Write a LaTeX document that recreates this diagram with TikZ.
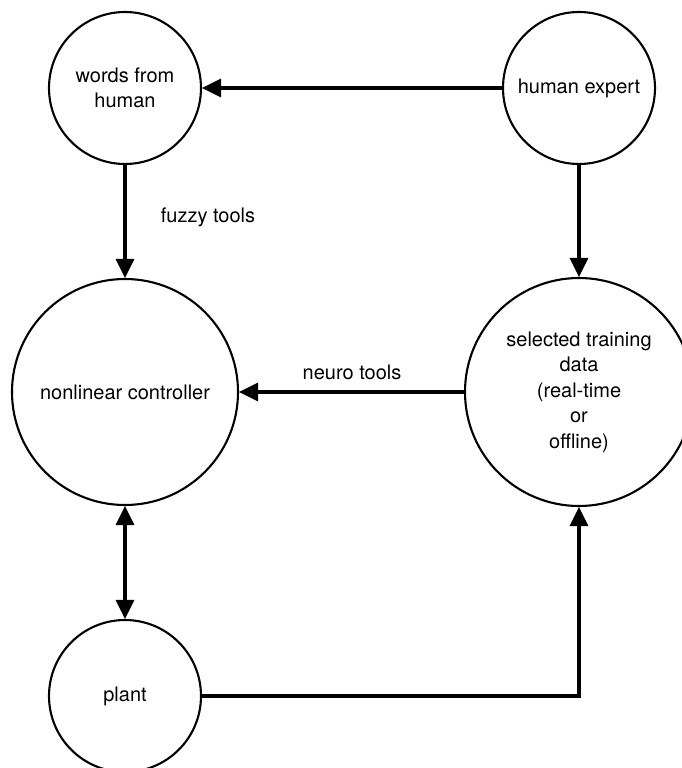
\documentclass[tikz,border=0pt]{standalone}
\usepackage{fontspec}
\setmainfont{TeX Gyre Heros}
\usetikzlibrary{arrows.meta}
\begin{document}
\begin{tikzpicture}[x=1pt,y=-1pt,
  state/.style={draw=black,circle,line width=2.1pt,inner sep=0pt,align=center,
    font=\fontsize{20}{25.5}\selectfont},
  conn/.style={line width=3.2pt,-{Triangle[length=19pt,width=18pt]}},
  biconn/.style={line width=3.2pt,{Triangle[length=19pt,width=18pt]}-{Triangle[length=19pt,width=18pt]}},
  lbl/.style={font=\fontsize{20}{24}\selectfont,inner sep=0pt}]
\useasboundingbox (0,0) rectangle (682,768);
\node[state,minimum size=152pt] (words) at (125,88) {words from\\human};
\node[state,minimum size=152pt] (expert) at (579,88) {human expert};
\node[state,minimum size=226pt] (ctrl) at (125,392) {nonlinear controller};
\node[state,minimum size=228pt] (train) at (579,392) {selected training\\data\\(real-time\\or\\offline)};
\node[state,minimum size=152pt] (plant) at (125,696) {plant};
\node[lbl] (fuzzy) at (208,217) {fuzzy tools};
\node[lbl] (neuro) at (352,372) {neuro tools};
\draw[conn] (expert.west) -- (words.east);
\draw[conn] (words.south) -- (ctrl.north);
\draw[conn] (expert.south) -- (train.north);
\draw[conn] (train.west) -- (ctrl.east);
\draw[biconn] (ctrl.south) -- (plant.north);
\draw[conn] (plant.east) -| (train.south);
\end{tikzpicture}
\end{document}
